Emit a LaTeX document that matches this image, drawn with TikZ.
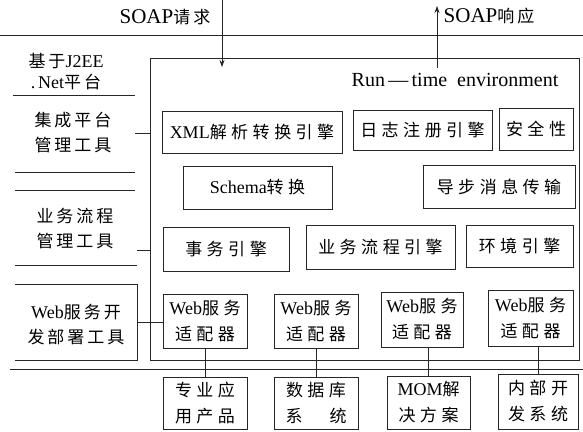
\documentclass[tikz,border=0pt]{standalone}
\usepackage{fontspec}
\setmainfont{Liberation Serif}
\newfontfamily\cjk{Noto Sans CJK SC}
\usetikzlibrary{arrows.meta}
\newcommand\lat[1]{{\rmfamily\fontsize{18}{22}\selectfont #1}}
\newcommand\wsp[1]{\spaceskip #1\relax}
\tikzset{
  ln/.style={draw=black!85, line width=0.7pt},
  bx/.style={ln, rectangle, inner sep=0pt, align=center,
    font=\cjk\fontsize{17}{26}\selectfont, execute at begin node={\wsp{4.5pt}}},
  lbl/.style={inner sep=0pt, align=center,
    font=\cjk\fontsize{17}{25}\selectfont, execute at begin node={\wsp{3pt}}},
  soap/.style={inner sep=0pt, font=\fontsize{21}{24}\selectfont},
  arr/.style={ln, -{Stealth[length=7pt,width=5pt]}},
}
\begin{document}
\begin{tikzpicture}[x=1pt,y=-1pt]
\useasboundingbox[fill=white] (0,0) rectangle (583,431);
% runtime environment
\node[bx, minimum width=429pt, minimum height=302pt] (rt) at (364.5,209) {};
\node[inner sep=0pt, font=\fontsize{20}{24}\selectfont] (rtl) at (455,80) {Run\,—\,time\enspace environment};
\node[bx, minimum width=180pt, minimum height=42pt] (xml) at (252,132) {\lat{XML}解 析 转 换 引 擎};
\node[bx, minimum width=139pt, minimum height=40pt] (log) at (422.5,130) {日 志 注 册 引 擎};
\node[bx, minimum width=74pt, minimum height=42pt] (sec) at (536,129) {安 全 性};
\node[bx, minimum width=149pt, minimum height=43pt] (sch) at (257.5,187.5) {\lat{Schema}转 换};
\node[bx, minimum width=152pt, minimum height=43pt] (asy) at (499,186.5) {导 步 消 息 传 输};
\node[bx, minimum width=126pt, minimum height=44pt] (tx) at (226,249) {事 务 引 擎};
\node[bx, minimum width=149pt, minimum height=44pt] (bp) at (380.5,247) {业 务 流 程 引 擎};
\node[bx, minimum width=107pt, minimum height=42pt] (env) at (519.5,246) {环 境 引 擎};
% adapters
\node[bx, minimum width=84pt, minimum height=54pt] (ad1) at (205,321) {\lat{Web}服 务\\适 配 器};
\node[bx, minimum width=84pt, minimum height=54pt] (ad2) at (316,321) {\lat{Web}服 务\\适 配 器};
\node[bx, minimum width=82pt, minimum height=55pt] (ad3) at (422,319.5) {\lat{Web}服 务\\适 配 器};
\node[bx, minimum width=85pt, minimum height=56pt] (ad4) at (530.5,318) {\lat{Web}服 务\\适 配 器};
% bottom systems
\node[bx, minimum width=84pt, minimum height=52pt] (b1) at (205,403) {专 业 应\\用 产 品};
\node[bx, minimum width=84pt, minimum height=52pt] (b2) at (316,403) {数 据 库\\系\hspace{27pt}统};
\node[bx, minimum width=83pt, minimum height=53pt] (b3) at (428.5,402.5) {\lat{MOM}解\\决 方 案};
\node[bx, minimum width=80pt, minimum height=55pt] (b4) at (538,401.5) {内 部 开\\发 系 统};
\draw[ln] (ad1.south) -- (b1.north);
\draw[ln] (ad2.south) -- (b2.north);
\draw[ln] (b3.north) -- (b3.north |- ad3.south);
\draw[ln] (b4.north) -- (b4.north |- ad4.south);
% separators
\draw[ln, line width=0.8pt] (0,35) -- (583,35);
\draw[ln, line width=0.9pt] (10,369) -- (583,369);
% left column
\node[lbl, font=\cjk\fontsize{17}{21}\selectfont] (plat) at (66,72) {基 于\lat{J2EE}\\\lat{.\,Net}平 台};
\node[lbl] (t1) at (73,133) {集 成 平 台\\管 理 工 具};
\node[lbl] (t2) at (75,229) {业 务 流 程\\管 理 工 具};
\node[lbl] (t3) at (76,325) {\lat{Web}服 务 开\\发 部 署 工 具};
\draw[ln] (13,95) -- (135,95);
\draw[ln] (15,172) -- (135,172);
\draw[ln] (15,190) -- (135,190);
\draw[ln] (15,265) -- (137,265);
\draw[ln] (15,284) -- (137,284) -- (137,360) -- (15,360);
\coordinate (k1) at (135,133);
\coordinate (k2) at (137,250);
\coordinate (k3) at (137,322);
\draw[ln] (k1) -- (k1 -| rt.west);
\draw[ln] (k2) -- (k2 -| rt.west);
\draw[ln] (k3) -- (k3 -| ad1.west);
% SOAP
\coordinate (qa) at (222,0);
\coordinate (qb) at (222,67);
\draw[arr] (qa) -- (qb);
\node[soap] (q) at (165,17) {SOAP{\cjk\fontsize{17}{20}\selectfont 请\hspace{3pt}求}};
\coordinate (ra) at (437,68);
\coordinate (rb) at (437,6);
\draw[arr] (ra) -- (rb);
\node[soap] (r) at (489,16) {SOAP{\cjk\fontsize{17}{20}\selectfont 响\hspace{3pt}应}};
\end{tikzpicture}
\end{document}
